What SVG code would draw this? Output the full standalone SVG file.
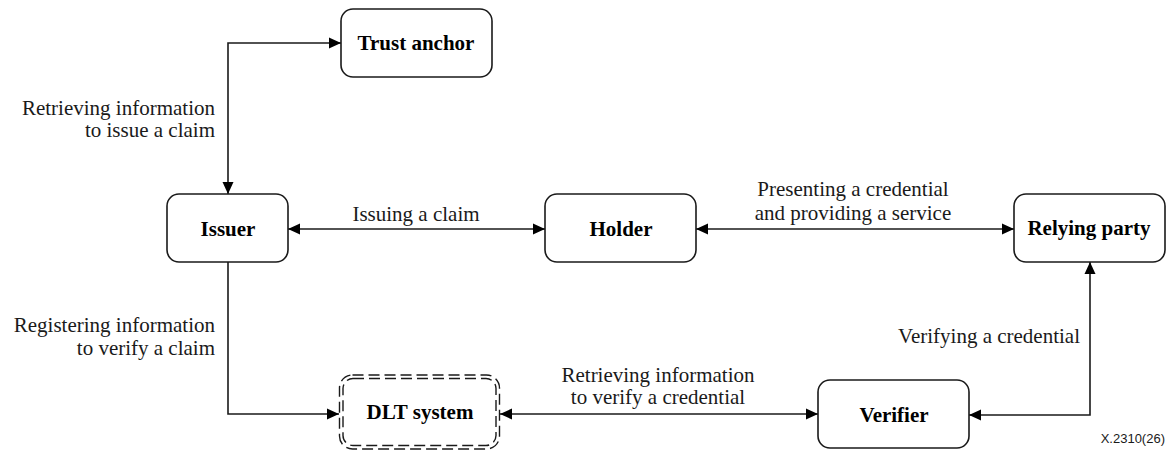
<svg xmlns="http://www.w3.org/2000/svg" width="1171" height="452" viewBox="0 0 1171 452">
  <style>
    .box { fill: #fff; stroke: #1a1a1a; stroke-width: 1.6; }
    .dlt { fill: none; stroke: #1a1a1a; stroke-width: 1.4; stroke-dasharray: 11 5; }
    .lbl { font-family: "Liberation Serif", "Times New Roman", serif; font-size: 21px; fill: #1a1a1a; }
    .nl { font-family: "Liberation Serif", "Times New Roman", serif; font-size: 21px; font-weight: bold; fill: #000; text-anchor: middle; }
    .conn { fill: none; stroke: #1a1a1a; stroke-width: 1.6; }
    .ref { font-family: "Liberation Sans", Arial, sans-serif; font-size: 13px; fill: #1a1a1a; text-anchor: end; }
  </style>
  <defs>
    <marker id="arr" viewBox="0 0 12 12" refX="12" refY="6" markerWidth="12" markerHeight="12" markerUnits="userSpaceOnUse" orient="auto-start-reverse">
      <path d="M0,0.5 L12,6 L0,11.5 z" fill="#000"/>
    </marker>
  </defs>

  <g id="connectors">
    <path class="conn" d="M228,194 V43 H341" marker-start="url(#arr)" marker-end="url(#arr)"/>
    <path class="conn" d="M288,229 H545" marker-start="url(#arr)" marker-end="url(#arr)"/>
    <path class="conn" d="M696,229 H1014" marker-start="url(#arr)" marker-end="url(#arr)"/>
    <path class="conn" d="M228,262 V414 H339" marker-end="url(#arr)"/>
    <path class="conn" d="M500,414 H818" marker-start="url(#arr)" marker-end="url(#arr)"/>
    <path class="conn" d="M1090,262 V415 H969" marker-start="url(#arr)" marker-end="url(#arr)"/>
  </g>

  <g id="labels">
    <text class="lbl" text-anchor="end"><tspan x="215" y="115">Retrieving information</tspan><tspan x="215" y="137">to issue a claim</tspan></text>
    <text class="lbl" text-anchor="middle" x="416" y="221">Issuing a claim</text>
    <text class="lbl" text-anchor="middle"><tspan x="853" y="196">Presenting a credential</tspan><tspan x="853" y="220">and providing a service</tspan></text>
    <text class="lbl" text-anchor="end"><tspan x="215" y="332">Registering information</tspan><tspan x="215" y="355">to verify a claim</tspan></text>
    <text class="lbl" text-anchor="middle"><tspan x="658" y="382">Retrieving information</tspan><tspan x="658" y="404">to verify a credential</tspan></text>
    <text class="lbl" text-anchor="end" x="1080" y="343">Verifying a credential</text>
  </g>

  <g id="trust-anchor">
    <rect class="box" x="341" y="9" width="151" height="68" rx="12"/>
    <text class="nl" x="416" y="50">Trust anchor</text>
  </g>
  <g id="issuer">
    <rect class="box" x="167" y="194" width="121" height="68" rx="12"/>
    <text class="nl" x="228" y="236">Issuer</text>
  </g>
  <g id="holder">
    <rect class="box" x="545" y="194" width="151" height="68" rx="12"/>
    <text class="nl" x="621" y="236">Holder</text>
  </g>
  <g id="relying-party">
    <rect class="box" x="1014" y="194" width="151" height="68" rx="12"/>
    <text class="nl" x="1089" y="235">Relying party</text>
  </g>
  <g id="dlt-system">
    <rect class="dlt" x="339.5" y="375" width="160" height="74" rx="13"/>
    <rect class="dlt" x="343" y="378.5" width="153" height="67" rx="10"/>
    <text class="nl" x="420" y="419">DLT system</text>
  </g>
  <g id="verifier">
    <rect class="box" x="818" y="380" width="151" height="68" rx="12"/>
    <text class="nl" x="894" y="422">Verifier</text>
  </g>

  <text class="ref" x="1165" y="443">X.2310(26)</text>
</svg>
